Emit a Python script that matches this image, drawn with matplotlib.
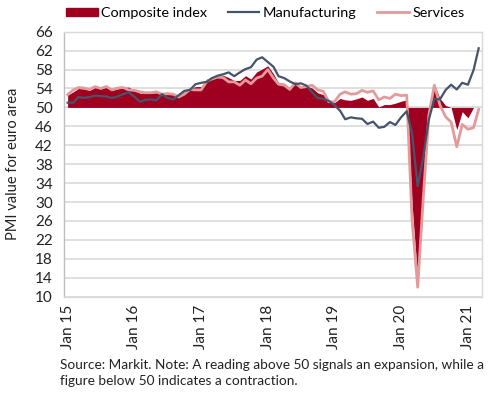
import numpy as np
import matplotlib
matplotlib.use("Agg")
import matplotlib.pyplot as plt
import matplotlib.dates as mdates
from matplotlib.patches import Patch
from matplotlib.lines import Line2D
import pandas as pd

plt.rcParams['font.family'] = ['Lato', 'DejaVu Sans']

# monthly PMI readings, euro area
months = pd.date_range('2015-01-01', '2021-03-01', freq='MS')

composite = [52.6, 53.3, 54.0, 53.9, 53.6, 54.2, 53.9, 54.3, 53.6, 53.9, 54.2, 54.3,
             53.6, 53.0, 53.1, 53.0, 53.1, 53.1, 53.2, 52.9, 52.6, 53.3, 53.9, 54.4,
             54.4, 56.0, 56.4, 56.8, 56.8, 56.3, 55.7, 55.7, 56.7, 56.0, 57.5, 58.1,
             58.8, 57.1, 55.2, 55.1, 54.1, 54.9, 54.3, 54.5, 54.1, 53.1, 52.7, 51.1,
             51.0, 51.9, 51.6, 51.5, 51.8, 52.2, 51.5, 51.9, 50.1, 50.6, 50.6, 50.9,
             51.3, 51.6, 29.7, 13.6, 31.9, 48.5, 54.9, 51.9, 50.4, 50.0, 45.3, 49.1,
             47.8, 50.0, np.nan]

manufacturing = [51.0, 51.0, 52.2, 52.0, 52.2, 52.5, 52.4, 52.3, 52.0, 52.3, 52.8, 53.2,
                 52.3, 51.2, 51.6, 51.7, 51.5, 52.8, 52.0, 51.7, 52.6, 53.5, 53.7, 54.9,
                 55.2, 55.4, 56.2, 56.7, 57.0, 57.4, 56.6, 57.4, 58.1, 58.5, 60.1, 60.6,
                 59.6, 58.6, 56.6, 56.2, 55.5, 54.9, 55.1, 54.6, 53.2, 52.0, 51.8, 51.4,
                 50.5, 49.3, 47.5, 47.9, 47.7, 47.6, 46.5, 47.0, 45.7, 45.9, 46.9, 46.3,
                 47.9, 49.2, 44.5, 33.4, 39.4, 47.4, 51.8, 51.7, 53.7, 54.8, 53.8, 55.2,
                 54.8, 57.9, 62.5]

services = [52.7, 53.7, 54.2, 54.1, 53.8, 54.4, 54.0, 54.4, 53.7, 54.1, 54.2, 53.7,
            53.6, 53.3, 53.1, 53.1, 53.3, 52.8, 52.9, 52.8, 52.2, 52.8, 53.8, 53.7,
            53.7, 55.5, 56.0, 56.4, 56.3, 55.4, 55.4, 54.7, 55.8, 55.0, 56.2, 56.6,
            58.0, 56.2, 54.9, 54.7, 53.8, 55.2, 54.2, 54.4, 54.7, 53.7, 53.4, 51.2,
            51.2, 52.8, 53.3, 52.8, 52.9, 53.6, 53.2, 53.5, 51.6, 52.2, 51.9, 52.8,
            52.5, 52.6, 26.4, 12.0, 30.5, 48.3, 54.7, 50.5, 48.0, 46.9, 41.7, 46.4,
            45.4, 45.7, 49.6]

red = '#a00020'
pink = '#e39a9a'
navy = '#44546a'

fig = plt.figure(figsize=(4.9, 3.94), dpi=100)
ax = fig.add_axes([0.1306, 0.247, 0.853, 0.6725])

comp = np.array(composite, dtype=float)
ax.fill_between(months, 50, comp, where=~np.isnan(comp), interpolate=True,
                color=red, linewidth=0, zorder=2)
ax.plot(months, services, color=pink, lw=2, zorder=3)
ax.plot(months, manufacturing, color=navy, lw=1.6, zorder=4)

ax.set_ylim(10, 66)
ax.set_yticks(np.arange(10, 67, 4))
ax.set_xlim(pd.Timestamp('2014-12-12'), pd.Timestamp('2021-03-19'))
ax.xaxis.set_major_locator(mdates.YearLocator())
ax.xaxis.set_major_formatter(mdates.DateFormatter('Jan %y'))
ax.grid(axis='y', color='#d9d9d9', lw=1.2, zorder=0)
ax.set_axisbelow(True)
for s in ax.spines.values():
    s.set_color('#d9d9d9')
    s.set_linewidth(1)
ax.spines['left'].set_color('#bfbfbf')
ax.tick_params(axis='both', length=0, labelsize=11, colors='#222222')
ax.tick_params(axis='y', pad=8)
ax.tick_params(axis='x', labelrotation=90, pad=6)
ax.set_ylabel('PMI value for euro area', fontsize=10.5, color='#222222', labelpad=11)

handles = [Patch(color=red), Line2D([], [], color=navy, lw=1.6),
           Line2D([], [], color=pink, lw=2)]
fig.legend(handles, ['Composite index', 'Manufacturing', 'Services'],
           loc='center left', bbox_to_anchor=(66 / 490, 1 - 13 / 394), ncol=3,
           frameon=False, borderpad=0, borderaxespad=0,
           fontsize=10.4, handlelength=2.2, handleheight=0.5, handletextpad=0.25,
           columnspacing=1.4)

fig.text(0.122, 0.022, 'Source: Markit. Note: A reading above 50 signals an expansion, while a\n'
         'figure below 50 indicates a contraction.', fontsize=9.8, color='#222222',
         linespacing=1.4)

fig.savefig('out.png', dpi=100)
